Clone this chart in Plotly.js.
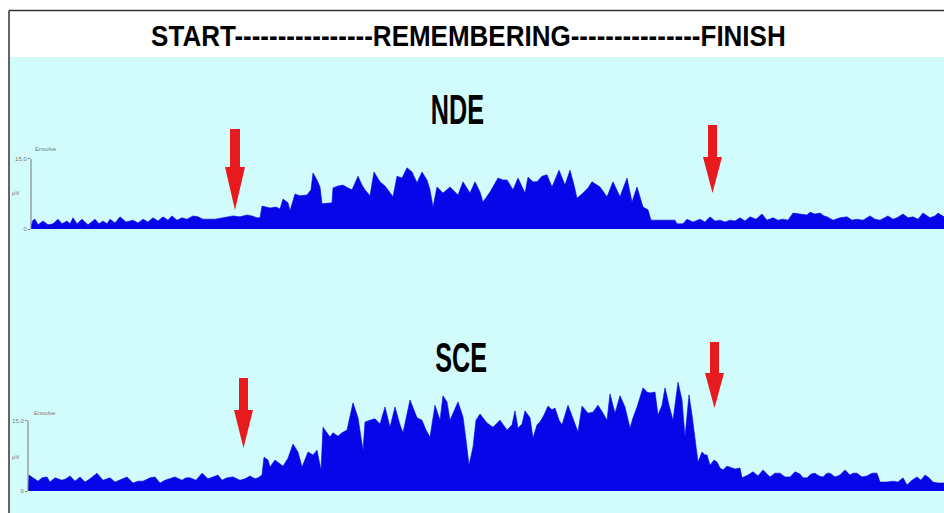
<!DOCTYPE html>
<html>
<head>
<meta charset="utf-8">
<script src="https://cdn.plot.ly/plotly-3.0.1.min.js"></script>
<style>html,body{margin:0;padding:0;background:#fff;}#chart{width:944px;height:513px;}</style>
</head>
<body>
<div id="chart"></div>
<script>
// ---- Data (time in s, envelope in µV) ----
const titleText = "START----------------REMEMBERING---------------FINISH";
const panelLabels = ["NDE", "SCE"];
const yTickVals = [0, 15];
const yTickText = ["0", "15,0"];
const unitLabel = "µV";
const seriesLabel = "Envolve";

const ndeTime = [0.3,0.5,0.7,1.0,1.5,2.0,2.5,3.0,3.4,3.9,4.2,4.5,4.9,5.4,6.0,6.7,7.1,7.5,7.9,8.2,8.7,9.2,9.8,10.5,11.0,11.5,12.0,12.5,13.0,13.5,14.0,14.4,14.9,15.4,15.9,16.5,17.0,17.5,18.7,19.4,19.9,20.5,21.2,21.9,22.4,22.9,23.2,23.4,24.2,24.8,25.2,25.5,26.0,26.2,26.7,27.2,27.9,28.3,28.5,28.9,29.2,29.4,30.4,30.5,31.0,31.5,32.0,32.4,33.0,33.4,33.7,34.2,34.6,35.2,35.7,36.0,36.5,36.9,37.4,37.9,38.4,38.9,39.4,39.9,40.2,40.5,40.9,41.5,42.2,43.0,43.5,44.2,44.7,45.2,45.5,46.2,47.0,47.5,47.9,48.5,49.0,49.7,50.0,50.5,50.9,51.4,51.9,52.4,53.1,53.7,54.2,54.6,54.9,55.5,56.0,56.4,57.2,57.9,58.5,59.2,59.9,60.4,60.9,61.5,62.0,62.3,63.2,64.7,64.9,65.5,65.9,66.5,67.2,67.7,68.2,68.7,69.2,69.7,70.2,70.7,71.2,71.7,72.2,72.8,73.4,73.9,74.5,75.0,75.5,76.0,76.5,77.2,77.9,78.2,78.7,79.2,79.6,79.9,80.5,81.2,81.9,82.4,82.9,83.5,84.2,84.7,85.2,86.0,86.5,86.9,87.5,88.0,88.5,89.0,89.5,90.2,90.7,91.0,91.6];
const ndeValues = [0.6,1.9,2.1,0.9,1.7,0.9,1.1,2.1,1.1,1.7,1.1,2.4,1.1,2.1,0.9,2.1,1.1,1.7,1.1,2.1,1.3,2.6,1.5,1.9,1.3,2.1,1.5,2.4,1.7,2.6,1.9,2.8,1.9,2.4,2.1,2.8,2.6,2.1,2.1,2.4,2.6,2.8,2.6,3.0,2.8,2.4,2.4,4.9,4.5,4.7,4.3,6.4,5.6,3.9,7.5,7.1,7.3,8.4,12.0,10.5,9.0,5.4,5.6,8.8,9.2,9.4,8.8,8.4,11.3,9.4,8.4,7.1,12.2,10.1,9.2,8.4,6.9,11.3,10.9,13.1,12.2,9.9,12.2,10.5,8.4,4.7,9.0,7.7,9.0,7.3,10.1,7.7,10.1,7.9,5.8,7.9,10.9,10.5,10.5,8.4,10.9,7.7,11.1,10.1,10.1,11.3,11.6,9.0,12.6,9.4,12.6,9.4,6.6,7.7,8.8,10.1,9.0,6.9,10.1,6.9,10.9,5.8,9.0,4.7,4.1,1.9,1.9,1.9,1.1,1.1,2.1,1.5,2.1,1.5,2.6,1.7,1.9,1.5,1.9,1.7,2.4,1.7,2.6,2.1,3.2,1.9,2.4,1.9,2.1,1.9,3.4,3.2,3.0,3.6,3.2,3.4,2.8,2.6,1.9,2.4,2.6,1.9,2.1,1.9,2.8,2.1,1.9,2.8,2.1,2.4,3.2,2.4,2.6,2.1,3.4,2.4,2.8,3.4,2.6];

const sceTime = [0.0,0.1,0.5,1.0,1.4,1.9,2.2,2.7,3.4,3.8,4.2,4.7,5.2,5.7,6.2,6.9,7.5,8.2,8.7,9.2,9.9,10.5,11.0,11.5,12.2,12.7,13.2,13.7,14.2,14.7,15.4,15.8,16.2,16.8,17.4,18.0,18.5,19.0,19.4,19.9,20.5,21.2,21.7,22.2,22.7,23.0,23.4,23.6,24.0,24.2,24.7,25.2,25.5,26.0,26.5,27.0,27.4,28.0,28.5,28.9,29.3,29.5,29.9,30.2,30.5,31.0,31.4,31.9,32.5,33.0,33.5,33.7,34.2,34.7,35.2,35.7,36.2,36.7,37.2,37.5,38.2,38.9,39.4,39.8,40.2,40.7,41.2,41.5,41.9,42.2,43.0,43.5,43.8,44.1,44.5,44.8,45.2,45.9,46.5,47.2,47.9,48.4,48.7,49.0,49.4,49.7,50.2,50.5,50.9,51.2,51.6,52.0,52.4,52.7,53.1,53.4,54.0,54.5,55.0,55.4,56.0,56.5,57.0,57.5,57.9,58.2,58.7,59.2,59.7,60.2,60.5,60.9,61.5,61.9,62.2,62.7,63.0,63.4,63.7,64.1,64.5,65.0,65.4,65.7,66.1,66.4,66.7,67.0,67.4,67.7,67.9,68.2,68.6,68.9,69.2,69.5,69.9,70.2,70.7,71.2,71.4,72.0,72.5,73.0,73.5,73.9,74.2,74.7,75.2,75.7,76.2,76.7,77.2,77.5,77.9,78.3,78.7,79.1,79.5,79.9,80.2,80.7,81.2,81.7,82.2,82.5,82.9,83.4,83.9,84.4,84.9,85.2,85.9,86.5,87.0,87.5,87.9,88.4,88.9,89.3,89.7,90.1,90.5,91.0,91.6];
const sceValues = [0.6,3.4,2.8,2.1,2.8,3.0,1.9,2.8,2.3,2.6,3.2,2.1,3.0,1.9,2.6,3.8,2.3,2.8,1.9,2.3,3.0,1.7,2.1,2.1,2.8,3.0,1.7,2.3,2.6,3.0,2.3,2.8,2.8,2.3,3.8,2.6,3.0,3.4,2.3,2.8,3.0,2.3,2.6,3.2,2.6,2.8,3.4,7.2,6.6,5.1,6.6,5.8,5.3,7.0,10.0,8.3,5.1,8.3,7.7,8.7,4.5,13.6,12.4,11.5,12.4,11.7,12.4,13.0,18.8,15.6,8.7,14.7,15.1,15.4,14.3,17.9,13.6,17.9,14.1,12.4,19.4,15.6,15.1,13.0,11.5,18.3,15.1,20.3,19.0,15.1,19.0,15.8,10.9,5.5,9.4,15.1,16.4,14.5,13.6,15.1,13.0,14.1,17.1,13.4,14.3,17.1,15.6,11.3,14.1,14.7,16.2,18.1,17.3,17.7,15.1,14.1,18.3,15.6,12.6,18.1,16.6,16.8,18.3,16.6,15.1,20.7,16.6,20.3,17.9,13.4,15.6,17.9,22.0,21.1,20.9,21.1,16.2,18.3,22.0,18.3,15.1,23.2,19.4,11.5,20.5,16.2,11.5,6.2,8.3,7.7,7.7,5.5,6.6,6.2,4.9,4.5,5.3,5.1,4.7,4.9,2.8,3.4,4.1,3.2,4.5,3.6,3.0,3.8,3.8,3.0,3.0,4.1,3.6,2.8,2.8,3.6,3.8,3.2,3.0,3.8,3.8,3.0,3.4,4.5,3.4,3.8,3.8,3.0,3.2,3.8,3.8,1.9,1.9,2.1,1.9,2.8,1.3,2.3,3.0,2.3,3.4,2.8,1.9,1.7,1.7];

// ---- Layout helpers (pixel -> paper) ----
const W = 944, H = 513;
const px = x => x / W;
const py = y => 1 - y / H;
const pt = (x, y) => px(x) + "," + py(y);
function arrowPath(xl, xr, yTop, yHead, hl, hr, yTip) {
  const xc = (hl + hr) / 2;
  return "M " + pt(xl, yTop) + " L " + pt(xr, yTop) + " L " + pt(xr, yHead) + " L " + pt(hr, yHead) +
         " L " + pt(xc, yTip) + " L " + pt(hl, yHead) + " L " + pt(xl, yHead) + " Z";
}

const blue = "rgb(6,6,232)";
const red = "rgb(232,26,30)";
const cyan = "#d2fbfb";
const tickFont = {family: "Liberation Sans, Arial", size: 6, color: "#777"};

const traces = [
  {x: ndeTime, y: ndeValues, xaxis: "x", yaxis: "y", type: "scatter", mode: "lines",
   fill: "tozeroy", fillcolor: blue, line: {color: blue, width: 0.6}, hoverinfo: "skip", name: panelLabels[0]},
  {x: sceTime, y: sceValues, xaxis: "x2", yaxis: "y2", type: "scatter", mode: "lines",
   fill: "tozeroy", fillcolor: blue, line: {color: blue, width: 0.6}, hoverinfo: "skip", name: panelLabels[1]}
];

const xCommon = {showgrid: false, zeroline: false, showline: false, showticklabels: false, ticks: ""};
const yCommon = {showgrid: false, zeroline: false, showline: false, tickmode: "array",
  tickvals: yTickVals, ticktext: yTickText, ticks: "outside", ticklen: 2, tickcolor: "#777",
  tickfont: tickFont};

const layout = {
  width: W, height: H,
  margin: {l: 0, r: 0, t: 0, b: 0},
  paper_bgcolor: "#ffffff",
  plot_bgcolor: "rgba(0,0,0,0)",
  showlegend: false,
  xaxis: Object.assign({}, xCommon, {domain: [px(31), 1], range: [0.3, 91.6], anchor: "y"}),
  yaxis: Object.assign({}, yCommon, {domain: [py(229), py(229 - 16 * 4.67)], range: [0, 16], anchor: "x"}),
  xaxis2: Object.assign({}, xCommon, {domain: [px(28), 1], range: [0, 91.6], anchor: "y2"}),
  yaxis2: Object.assign({}, yCommon, {domain: [py(491), py(491 - 25 * 4.69)], range: [0, 25], anchor: "x2"}),
  shapes: [
    {type: "rect", xref: "paper", yref: "paper", x0: px(9), x1: 1, y0: 0, y1: py(57),
     fillcolor: cyan, line: {width: 0}, layer: "below"},
    {type: "line", xref: "paper", yref: "paper", x0: px(9), x1: 1, y0: py(10.5), y1: py(10.5),
     line: {color: "#333", width: 1.5}},
    {type: "line", xref: "paper", yref: "paper", x0: px(9), x1: px(9), y0: py(10.5), y1: 0,
     line: {color: "#333", width: 1.5}},
    {type: "line", xref: "x domain", yref: "y", x0: 0, x1: 0, y0: 0, y1: 15, line: {color: "#777", width: 1}},
    {type: "line", xref: "x2 domain", yref: "y2", x0: 0, x1: 0, y0: 0, y1: 15, line: {color: "#777", width: 1}},
    {type: "path", xref: "paper", yref: "paper", path: arrowPath(230, 240, 129, 167, 225, 245, 210),
     fillcolor: red, line: {width: 0}},
    {type: "path", xref: "paper", yref: "paper", path: arrowPath(708, 717, 125, 157, 703, 722, 193),
     fillcolor: red, line: {width: 0}},
    {type: "path", xref: "paper", yref: "paper", path: arrowPath(239, 248, 378, 410, 234, 253, 448),
     fillcolor: red, line: {width: 0}},
    {type: "path", xref: "paper", yref: "paper", path: arrowPath(710, 719, 342, 373, 705, 724, 408),
     fillcolor: red, line: {width: 0}}
  ],
  annotations: [
    {text: "<b>" + titleText + "</b>", xref: "paper", yref: "paper", x: px(468), y: py(36),
     xanchor: "center", yanchor: "middle", showarrow: false,
     font: {family: "Liberation Sans, Arial, sans-serif", size: 26, color: "#000"}},
    {text: "<b>" + panelLabels[0] + "</b>", xref: "paper", yref: "paper", x: px(457), y: py(109),
     xanchor: "center", yanchor: "middle", showarrow: false,
     font: {family: "Liberation Sans, Arial", size: 42, color: "#000"}},
    {text: "<b>" + panelLabels[1] + "</b>", xref: "paper", yref: "paper", x: px(461), y: py(357),
     xanchor: "center", yanchor: "middle", showarrow: false,
     font: {family: "Liberation Sans, Arial", size: 42, color: "#000"}},
    {text: seriesLabel, xref: "paper", yref: "paper", x: px(33), y: py(149), xanchor: "left", yanchor: "middle",
     showarrow: false, font: tickFont},
    {text: seriesLabel, xref: "paper", yref: "paper", x: px(32), y: py(413), xanchor: "left", yanchor: "middle",
     showarrow: false, font: tickFont},
    {text: unitLabel, xref: "paper", yref: "paper", x: px(15), y: py(193), xanchor: "center", yanchor: "middle",
     showarrow: false, font: tickFont},
    {text: unitLabel, xref: "paper", yref: "paper", x: px(15), y: py(457), xanchor: "center", yanchor: "middle",
     showarrow: false, font: tickFont}
  ]
};

Plotly.newPlot("chart", traces, layout, {staticPlot: true, displayModeBar: false}).then(function () {
  // Condense the heavy panel labels and stretch the title slightly, as in the source image
  document.querySelectorAll("#chart .annotation-text").forEach(function (el) {
    const t = el.textContent;
    let s = null;
    if (panelLabels.indexOf(t) >= 0) s = "scale(0.6, 1)";
    else if (t === titleText) s = "scale(1, 1.12)";
    if (s) {
      el.style.transformBox = "fill-box";
      el.style.transformOrigin = "center";
      el.style.transform = s;
    }
  });
});
</script>
</body>
</html>
